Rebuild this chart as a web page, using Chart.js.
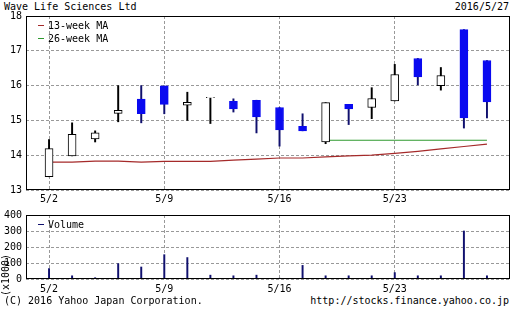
<!DOCTYPE html>
<html><head><meta charset="utf-8">
<script src="https://cdn.jsdelivr.net/npm/chart.js@4.4.0/dist/chart.umd.min.js"></script>
<style>
html,body{margin:0;padding:0;background:#fff;width:519px;height:312px;overflow:hidden;font-family:"DejaVu Sans Mono",monospace;font-size:10px;color:#000}
canvas{position:absolute;left:0}
#main{top:0;width:519px;height:205px}
#vol{top:205px;width:519px;height:89px}
.t{position:absolute;white-space:pre;line-height:12px;font-size:10px}
#unit{left:-19px;top:269px;width:50px;text-align:center;transform:rotate(-90deg)}
</style></head><body>
<div class="t" style="left:4px;top:1px">Wave Life Sciences Ltd</div>
<div class="t" style="right:10px;top:1px">2016/5/27</div>
<canvas id="main" width="519" height="205"></canvas>
<canvas id="vol" width="519" height="89"></canvas>
<div class="t" id="unit">(x1000)</div>
<div class="t" style="left:4px;top:295px">(C) 2016 Yahoo Japan Corporation.</div>
<div class="t" style="right:10px;top:295px">http://stocks.finance.yahoo.co.jp</div>
<script>
const dates = ['5/2','5/3','5/4','5/5','5/6','5/9','5/10','5/11','5/12','5/13','5/16','5/17','5/18','5/19','5/20','5/23','5/24','5/25','5/26','5/27'];
const openP  = [13.38,13.98,14.47,15.20,15.61,15.99,15.44,15.65,15.55,15.58,15.37,14.83,14.38,15.46,15.37,15.56,16.78,16.00,17.61,16.72];
const highP  = [14.45,14.93,14.70,16.00,16.00,15.99,15.81,15.66,15.62,15.58,15.37,15.19,15.51,15.46,15.94,16.61,16.78,16.52,17.61,16.72];
const lowP   = [13.38,13.98,14.38,14.96,14.93,15.19,15.00,14.91,15.24,14.64,14.26,14.70,14.33,14.88,15.05,15.56,16.02,15.87,14.78,15.07];
const closeP = [14.19,14.60,14.64,15.29,15.19,15.46,15.52,15.66,15.33,15.10,14.73,14.70,15.51,15.33,15.63,16.32,16.25,16.29,15.07,15.53];
const ma13   = [13.80,13.80,13.83,13.83,13.80,13.82,13.82,13.82,13.86,13.89,13.92,13.92,13.95,13.98,14.00,14.05,14.11,14.18,14.25,14.32];
const ma26   = [null,null,null,null,null,null,null,null,null,null,null,null,14.43,14.43,14.43,14.43,14.43,14.43,14.43,14.43];
const volume = [65,20,8,96,75,152,134,24,20,24,5,85,20,20,20,40,20,20,300,20];
const xTickLabels = ['5/2','5/9','5/16','5/23'];
const priceTicks = [13,14,15,16,17,18];
const volTicks = [0,100,200,300,400];

const FONT = {family:'"DejaVu Sans Mono", monospace', size:10};
const BLUE = '#0a0af0', NAVY = '#10106e';
const isDown = i => closeP[i] < openP[i];

const frame = {
  id:'frame',
  afterDraw(chart, args, opts){
    const {ctx, chartArea:a} = chart;
    ctx.save();
    ctx.strokeStyle = '#000'; ctx.lineWidth = 1;
    ctx.strokeRect(Math.round(a.left)+0.5, Math.round(a.top)+0.5, Math.round(a.right-a.left)-1, Math.round(a.bottom-a.top)-1);
    ctx.font = '10px "DejaVu Sans Mono", monospace';
    ctx.textBaseline = 'middle';
    (opts.items||[]).forEach((it,k)=>{
      const y = a.top + 9 + k*13;
      ctx.strokeStyle = it.color; ctx.beginPath();
      ctx.moveTo(a.left+12, y+0.5); ctx.lineTo(a.left+18, y+0.5); ctx.stroke();
      ctx.fillStyle = '#000'; ctx.fillText(it.text, a.left+22, y+1);
    });
    ctx.restore();
  }
};

function xScale(h, pad){
  return {
    type:'linear', min:-1, max:20, offset:false, bounds:'ticks',
    afterBuildTicks: s => { s.ticks = xTickLabels.map(d => ({value: dates.indexOf(d)})); },
    afterDataLimits: s => { s.min = -1; s.max = 20; },
    afterFit: s => { s.height = h; },
    ticks:{callback: v => dates[v], font:FONT, color:'#000', padding:pad, maxRotation:0, autoSkip:false},
    grid:{color:'#999', drawTicks:false, offset:false},
    border:{display:false, dash:[3,2]}
  };
}

new Chart(document.getElementById('main'), {
  data:{ datasets:[
    {type:'line', label:'13-week MA', data: ma13.map((v,i)=>({x:i,y:v})), borderColor:'#a52a2a', borderWidth:1.2, pointRadius:0, order:5},
    {type:'line', label:'26-week MA', data: ma26.map((v,i)=>({x:i,y:v})), borderColor:'#2f9a2f', borderWidth:1.2, pointRadius:0, order:5},
    {type:'bar', data: dates.map((d,i)=>({x:i, y:[lowP[i], highP[i]]})), barThickness:1.3, grouped:false,
      backgroundColor: dates.map((d,i)=> isDown(i) ? NAVY : '#000'), order:3},
    {type:'bar', data: dates.map((d,i)=>({x:i, y:[openP[i], closeP[i]]})), barThickness:8, grouped:false,
      backgroundColor: dates.map((d,i)=> isDown(i) ? BLUE : '#fff'),
      borderColor: dates.map((d,i)=> isDown(i) ? BLUE : '#000'), borderWidth:1, borderSkipped:false, order:2}
  ]},
  options:{
    responsive:false, animation:false, devicePixelRatio:1,
    layout:{padding:{top:16, right:9, left:0, bottom:0}},
    plugins:{legend:{display:false}, tooltip:{enabled:false},
      frame:{items:[{text:'13-week MA', color:'#a52a2a'},{text:'26-week MA', color:'#2f9a2f'}]}},
    scales:{
      x: xScale(15, 3),
      y:{ type:'linear', min:13, max:18,
        afterBuildTicks: s => { s.ticks = priceTicks.map(v=>({value:v})); },
        afterFit: s => { s.width = 26; },
        ticks:{font:FONT, color:'#000', padding:4},
        grid:{color:'#999', drawTicks:false},
        border:{display:false, dash:[3,2]} }
    }
  },
  plugins:[frame]
});

new Chart(document.getElementById('vol'), {
  data:{ datasets:[
    {type:'bar', label:'Volume', data: volume.map((v,i)=>({x:i,y:v})), barThickness:1.3, grouped:false, backgroundColor:NAVY}
  ]},
  options:{
    responsive:false, animation:false, devicePixelRatio:1,
    layout:{padding:{top:9, right:9, left:0, bottom:0}},
    plugins:{legend:{display:false}, tooltip:{enabled:false},
      frame:{items:[{text:'Volume', color:NAVY}]}},
    scales:{
      x: xScale(15, 4),
      y:{ type:'linear', min:0, max:400,
        afterBuildTicks: s => { s.ticks = volTicks.map(v=>({value:v})); },
        afterFit: s => { s.width = 26; },
        ticks:{font:FONT, color:'#000', padding:4},
        grid:{color:'#999', drawTicks:false},
        border:{display:false, dash:[3,2]} }
    }
  },
  plugins:[frame]
});
</script>
</body></html>
